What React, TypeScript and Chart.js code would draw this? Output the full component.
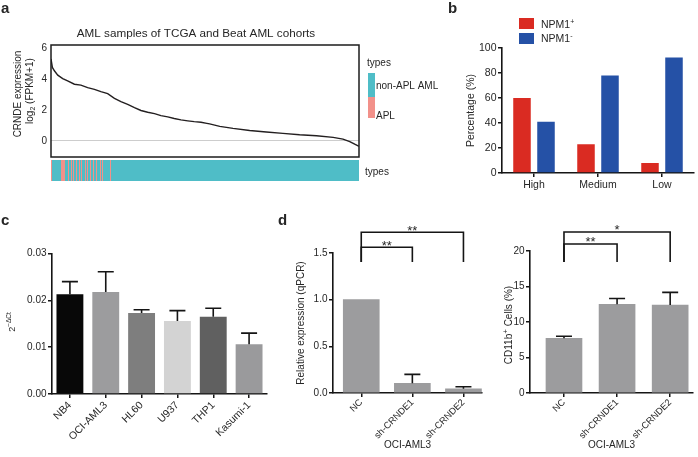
import React, { useEffect, useRef } from 'react';
import { Chart, registerables } from 'chart.js';
Chart.register(...registerables);

const PAGE_W = 698;
const PAGE_H = 457;
const FONT = '"Liberation Sans", Arial, Helvetica, sans-serif';
Chart.defaults.font.family = FONT;

// ---------- Panel a : CRNDE expression, ranked samples ----------
const sampleRankPct = [0, 0.45, 1.1, 2.2, 3.8, 5.4, 7.6, 9.7, 11.9, 14.1, 16.2, 18.4, 20.6, 22.7, 24.9, 27.1, 29.2, 31.4, 33.6, 35.7, 37.9, 40.0, 42.2, 44.4, 46.5, 48.7, 50.6, 51.5, 54.8, 59.1, 64.5, 69.9, 75.3, 80.7, 86.2, 91.6, 94.8, 97.0, 98.6, 99.7, 100];
const crndeExpr = [5.3, 4.75, 4.53, 4.25, 4.03, 3.88, 3.66, 3.6, 3.44, 3.33, 3.18, 3.05, 2.75, 2.53, 2.35, 2.14, 1.96, 1.85, 1.76, 1.63, 1.55, 1.44, 1.35, 1.29, 1.24, 1.2, 1.13, 1.09, 0.93, 0.8, 0.67, 0.57, 0.48, 0.39, 0.33, 0.22, 0.11, -0.05, -0.22, -0.33, -0.35];
const aYTicks = [0, 2, 4, 6];
const stripSampleCount = 308;
const aplSampleIdx = [0, 10, 11, 12, 13, 17, 20, 22, 25, 28, 30, 34, 36, 39, 42, 45, 49, 51, 59];
const typeNames = ['non-APL AML', 'APL'];
const typeColors = ['#4FBDC7', '#F2918A'];

// ---------- Panel b ----------
const npmGroups = ['High', 'Medium', 'Low'];
const npmPositive = [60, 23, 8];
const npmNegative = [41, 78, 92.5];
const bYTicks = [0, 20, 40, 60, 80, 100];
const npmColors = ['#DA2B22', '#2551A6'];

// ---------- Panel c ----------
const cellLines = ['NB4', 'OCI-AML3', 'HL60', 'U937', 'THP1', 'Kasumi-1'];
const cellExpr = [0.0213, 0.0218, 0.0173, 0.0156, 0.0165, 0.0106];
const cellSd = [0.0027, 0.0043, 0.0007, 0.0022, 0.0018, 0.0024];
const cellColors = ['#080808', '#9C9C9E', '#7E7E7E', '#D3D3D3', '#606060', '#9A9A9C'];
const cYTicks = [0, 0.01, 0.02, 0.03];

// ---------- Panel d ----------
const shConditions = ['NC', 'sh-CRNDE1', 'sh-CRNDE2'];
const relExpr = [1.0, 0.104, 0.046];
const relSd = [0, 0.096, 0.021];
const dLYTicks = [0, 0.5, 1.0, 1.5];
const cd11bPct = [7.7, 12.5, 12.4];
const cd11bSd = [0.3, 0.82, 1.77];
const dRYTicks = [0, 5, 10, 15, 20];
const relSig = [{ from: 0, to: 2, level: 1.722, label: '**' }, { from: 0, to: 1, level: 1.561, label: '**' }];
const relSigLeg = 1.404;
const cd11bSig = [{ from: 0, to: 2, level: 22.68, label: '*' }, { from: 0, to: 1, level: 20.99, label: '**' }];
const cd11bSigLeg = 18.45;

const AX = '#151515';
const TXT = '#262626';

type Seg = { t: string; size: number; rise?: number; bold?: boolean };
function rich(ctx: CanvasRenderingContext2D, segs: Seg[], x: number, y: number, align: 'left' | 'center' | 'right' = 'left', rot = 0, color = TXT) {
  ctx.save();
  ctx.translate(x, y);
  if (rot) ctx.rotate(rot);
  ctx.fillStyle = color;
  ctx.textBaseline = 'alphabetic';
  ctx.textAlign = 'left';
  const widths = segs.map((s) => {
    ctx.font = `${s.bold ? 'bold ' : ''}${s.size}px ${FONT}`;
    return ctx.measureText(s.t).width;
  });
  const total = widths.reduce((a, b) => a + b, 0);
  let cx = align === 'left' ? 0 : align === 'center' ? -total / 2 : -total;
  const base = segs[0].size * 0.35;
  segs.forEach((s, i) => {
    ctx.font = `${s.bold ? 'bold ' : ''}${s.size}px ${FONT}`;
    ctx.fillText(s.t, cx, base - (s.rise || 0));
    cx += widths[i];
  });
  ctx.restore();
}
const txt = (ctx: CanvasRenderingContext2D, t: string, x: number, y: number, size: number, align: 'left' | 'center' | 'right' = 'left', rot = 0, bold = false) =>
  rich(ctx, [{ t, size, bold }], x, y, align, rot);

const yFit = (w: number) => (s: any) => { s.width = w; s.paddingTop = 0; s.paddingBottom = 0; };
const xFit = (h: number) => (s: any) => { s.height = h; s.paddingLeft = 0; s.paddingRight = 0; };
const pad = (l: number, t: number, r: number, b: number, yW: number, xH: number) => ({ left: l - yW, top: t, right: PAGE_W - r, bottom: PAGE_H - b - xH });

const base = (padding: any) => ({
  animation: false as const,
  responsive: false,
  devicePixelRatio: 1,
  events: [] as any[],
  layout: { padding },
  plugins: { legend: { display: false }, tooltip: { enabled: false }, title: { display: false } },
});

function yAxis(o: { min: number; max: number; w: number; ticks: number[]; fmt: (v: number) => string; size?: number; title?: string }) {
  return {
    min: o.min,
    max: o.max,
    afterFit: yFit(o.w),
    afterBuildTicks: (s: any) => { s.ticks = o.ticks.map((v) => ({ value: v })); },
    ticks: { padding: 1.5, color: TXT, font: { size: o.size ?? 10 }, callback: (v: any) => o.fmt(Number(v)) },
    grid: { drawOnChartArea: false, drawTicks: true, tickLength: 4, color: AX, lineWidth: 1.5 },
    border: { display: true, color: AX, width: 1.6 },
    title: o.title ? { display: true, text: o.title, padding: 0, color: TXT, font: { size: o.size ?? 10 } } : { display: false },
  };
}

function errorBars(sd: number[], cap: number) {
  return {
    id: 'errbars',
    afterDatasetsDraw(chart: any) {
      const meta = chart.getDatasetMeta(0);
      const ys = chart.scales.y;
      const ctx = chart.ctx as CanvasRenderingContext2D;
      const vals = chart.data.datasets[0].data;
      ctx.save();
      ctx.strokeStyle = AX;
      ctx.lineWidth = 1.6;
      meta.data.forEach((el: any, i: number) => {
        const e = sd[i];
        if (!e) return;
        const v = typeof vals[i] === 'number' ? vals[i] : vals[i].y;
        const yTop = ys.getPixelForValue(v + e);
        ctx.beginPath();
        ctx.moveTo(el.x, el.y);
        ctx.lineTo(el.x, yTop);
        ctx.moveTo(el.x - cap / 2, yTop);
        ctx.lineTo(el.x + cap / 2, yTop);
        ctx.stroke();
      });
      ctx.restore();
    },
  };
}

function sigBrackets(sig: { from: number; to: number; level: number; label: string }[], leg: number) {
  return {
    id: 'sig',
    afterDraw(chart: any) {
      const xs = chart.scales.x;
      const ys = chart.scales.y;
      const ctx = chart.ctx as CanvasRenderingContext2D;
      const yLeg = ys.getPixelForValue(leg);
      ctx.save();
      ctx.strokeStyle = AX;
      ctx.lineWidth = 1.6;
      sig.forEach((s) => {
        const x1 = xs.getPixelForValue(s.from);
        const x2 = xs.getPixelForValue(s.to);
        const y = ys.getPixelForValue(s.level);
        ctx.beginPath();
        ctx.moveTo(x1, yLeg);
        ctx.lineTo(x1, y);
        ctx.lineTo(x2, y);
        ctx.lineTo(x2, yLeg);
        ctx.stroke();
        ctx.font = `13px ${FONT}`;
        ctx.fillStyle = TXT;
        ctx.textAlign = 'center';
        ctx.textBaseline = 'alphabetic';
        ctx.fillText(s.label, (x1 + x2) / 2, y + 2.5);
      });
      ctx.restore();
    },
  };
}

function makeConfigs(): any[] {
  // a: line
  const aPad = pad(51, 45, 359, 157, 30, 0);
  const aLine = {
    type: 'line',
    data: {
      datasets: [{ data: sampleRankPct.map((x, i) => ({ x, y: crndeExpr[i] })), borderColor: '#231F20', borderWidth: 1.4, pointRadius: 0, tension: 0 }],
    },
    options: {
      ...base(aPad),
      scales: {
        x: { type: 'linear', min: 0, max: 100, display: false },
        y: {
          min: -1.05,
          max: 6.2,
          afterFit: yFit(30),
          afterBuildTicks: (s: any) => { s.ticks = aYTicks.map((v) => ({ value: v })); },
          ticks: { padding: 4, color: TXT, font: { size: 10 } },
          grid: { drawTicks: false, color: (c: any) => (c.tick && c.tick.value === 0 ? '#cdcdcd' : 'rgba(0,0,0,0)'), lineWidth: 1 },
          border: { display: false },
        },
      },
    },
    plugins: [
      {
        id: 'aDecor',
        afterDraw(chart: any) {
          const ctx = chart.ctx as CanvasRenderingContext2D;
          const a = chart.chartArea;
          ctx.save();
          ctx.strokeStyle = '#1c1c1c';
          ctx.lineWidth = 1.5;
          ctx.strokeRect(a.left, a.top, a.right - a.left, a.bottom - a.top);
          ctx.restore();
          txt(ctx, 'AML samples of TCGA and Beat AML cohorts', 196, 33, 11.7, 'center');
          txt(ctx, 'CRNDE expression', 17.5, 94, 10, 'center', -Math.PI / 2);
          rich(ctx, [{ t: 'log', size: 10 }, { t: '2', size: 7, rise: -2.5 }, { t: ' (FPKM+1)', size: 10 }], 29, 91, 'center', -Math.PI / 2);
          // legend
          txt(ctx, 'types', 367, 62, 10);
          ctx.fillStyle = typeColors[0];
          ctx.fillRect(368, 73, 7, 24);
          ctx.fillStyle = typeColors[1];
          ctx.fillRect(368, 97, 7, 21);
          txt(ctx, typeNames[0], 376, 85, 10);
          txt(ctx, typeNames[1], 376, 115, 10);
          txt(ctx, 'types', 365, 171, 10);
          // panel letters
          txt(ctx, 'a', 1, 8, 15, 'left', 0, true);
          txt(ctx, 'b', 448, 8, 15, 'left', 0, true);
          txt(ctx, 'c', 1, 220, 15, 'left', 0, true);
          txt(ctx, 'd', 278, 220, 15, 'left', 0, true);
        },
      },
    ],
  };

  // a: type strip
  const stripTypes = Array.from({ length: stripSampleCount }, (_, i) => (aplSampleIdx.includes(i) ? 1 : 0));
  const aStrip = {
    type: 'bar',
    data: {
      labels: stripTypes.map((_, i) => String(i)),
      datasets: [{ data: stripTypes.map(() => 1), backgroundColor: stripTypes.map((t) => typeColors[t]), barPercentage: 1, categoryPercentage: 1, inflateAmount: 0, borderWidth: 0 }],
    },
    options: {
      ...base(pad(51, 160, 359, 181, 0, 0)),
      scales: { x: { display: false }, y: { display: false, min: 0, max: 1 } },
    },
  };

  // b
  const bYW = 37.3, bXH = 20;
  const bChart = {
    type: 'bar',
    data: {
      labels: npmGroups,
      datasets: [
        { label: 'NPM1+', data: npmPositive, backgroundColor: npmColors[0], categoryPercentage: 0.75, barPercentage: 0.73 },
        { label: 'NPM1-', data: npmNegative, backgroundColor: npmColors[1], categoryPercentage: 0.75, barPercentage: 0.73 },
      ],
    },
    options: {
      ...base(pad(502, 48, 694, 173, bYW, bXH)),
      scales: {
        x: {
          afterFit: xFit(bXH),
          ticks: { padding: 2, color: TXT, font: { size: 10.5 }, maxRotation: 0, autoSkip: false },
          grid: { offset: false, drawOnChartArea: false, drawTicks: true, tickLength: 4, color: AX, lineWidth: 1.5 },
          border: { display: true, color: AX, width: 1.6 },
        },
        y: yAxis({ min: 0, max: 100, w: bYW, ticks: bYTicks, fmt: (v) => String(v), size: 10.5, title: 'Percentage (%)' }),
      },
    },
    plugins: [
      {
        id: 'bLegend',
        afterDraw(chart: any) {
          const ctx = chart.ctx as CanvasRenderingContext2D;
          ctx.fillStyle = npmColors[0];
          ctx.fillRect(519, 18, 15, 11);
          ctx.fillStyle = npmColors[1];
          ctx.fillRect(519, 33, 15, 11);
          rich(ctx, [{ t: 'NPM1', size: 10.5 }, { t: '+', size: 7, rise: 4 }], 541, 24, 'left');
          rich(ctx, [{ t: 'NPM1', size: 10.5 }, { t: '-', size: 7, rise: 4 }], 541, 38.5, 'left');
        },
      },
    ],
  };

  // c
  const cYW = 40, cXH = 50;
  const cChart = {
    type: 'bar',
    data: {
      labels: cellLines,
      datasets: [{ data: cellExpr, backgroundColor: cellColors, categoryPercentage: 1, barPercentage: 0.75 }],
    },
    options: {
      ...base(pad(52, 253.5, 267, 394, cYW, cXH)),
      scales: {
        x: {
          afterFit: xFit(cXH),
          ticks: { padding: 1, color: TXT, font: { size: 10.5 }, minRotation: 45, maxRotation: 45, autoSkip: false },
          grid: { offset: false, drawOnChartArea: false, drawTicks: true, tickLength: 4, color: AX, lineWidth: 1.5 },
          border: { display: true, color: AX, width: 1.6 },
        },
        y: yAxis({ min: 0, max: 0.03, w: cYW, ticks: cYTicks, fmt: (v) => v.toFixed(2) }),
      },
    },
    plugins: [
      errorBars(cellSd, 16),
      {
        id: 'cTitle',
        afterDraw(chart: any) {
          rich(chart.ctx, [{ t: '2', size: 9 }, { t: '−ΔCt', size: 6.5, rise: 4 }], 12, 322, 'center', -Math.PI / 2);
        },
      },
    ],
  };

  // d left
  const dLYW = 38, dXH = 58;
  const linX = (min: number, max: number) => ({
    type: 'linear',
    min,
    max,
    offset: false,
    afterFit: xFit(dXH),
    afterBuildTicks: (s: any) => { s.ticks = shConditions.map((_, i) => ({ value: i })); },
    ticks: { padding: 0, color: TXT, font: { size: 9.3 }, minRotation: 45, maxRotation: 45, autoSkip: false, callback: (v: any) => shConditions[Math.round(Number(v))] },
    grid: { offset: false, drawOnChartArea: false, drawTicks: true, tickLength: 4, color: AX, lineWidth: 1.5 },
    border: { display: true, color: AX, width: 1.6 },
    title: { display: true, text: 'OCI-AML3', padding: 0, color: TXT, font: { size: 10 } },
  });
  const dLChart = {
    type: 'bar',
    data: {
      datasets: [{ data: shConditions.map((_, i) => ({ x: i, y: relExpr[i] })), backgroundColor: '#9C9C9E', barThickness: 36 }],
    },
    options: {
      ...base(pad(333, 253, 482, 393, dLYW, dXH)),
      scales: {
        x: linX(-0.553, 2.363),
        y: yAxis({ min: 0, max: 1.5, w: dLYW, ticks: dLYTicks, fmt: (v) => v.toFixed(1), title: 'Relative expression (qPCR)' }),
      },
    },
    plugins: [errorBars(relSd, 16), sigBrackets(relSig, relSigLeg)],
  };

  // d right
  const dRYW = 28;
  const dRChart = {
    type: 'bar',
    data: {
      datasets: [{ data: shConditions.map((_, i) => ({ x: i, y: cd11bPct[i] })), backgroundColor: '#9C9C9E', barThickness: 36 }],
    },
    options: {
      ...base(pad(530, 251, 693, 393, dRYW, dXH)),
      scales: {
        x: linX(-0.64, 2.43),
        y: yAxis({ min: 0, max: 20, w: dRYW, ticks: dRYTicks, fmt: (v) => String(v) }),
      },
    },
    plugins: [
      errorBars(cd11bSd, 16),
      sigBrackets(cd11bSig, cd11bSigLeg),
      {
        id: 'dRTitle',
        afterDraw(chart: any) {
          rich(chart.ctx, [{ t: 'CD11b', size: 10 }, { t: '+', size: 8, rise: 4 }, { t: ' Cells (%)', size: 10 }], 508, 325, 'center', -Math.PI / 2);
        },
      },
    ],
  };

  return [aLine, aStrip, bChart, cChart, dLChart, dRChart];
}

export default function App() {
  const canvases = useRef<(HTMLCanvasElement | null)[]>([]);
  useEffect(() => {
    const cfgs = makeConfigs();
    const charts = cfgs.map((cfg, i) => new Chart(canvases.current[i] as HTMLCanvasElement, cfg));
    return () => charts.forEach((c) => c.destroy());
  }, []);
  return (
    <div style={{ position: 'fixed', left: 0, top: 0, width: PAGE_W, height: PAGE_H, background: '#fff', overflow: 'hidden' }}>
      {[0, 1, 2, 3, 4, 5].map((i) => (
        <canvas
          key={i}
          ref={(el) => { canvases.current[i] = el; }}
          width={PAGE_W}
          height={PAGE_H}
          style={{ position: 'absolute', left: 0, top: 0, width: PAGE_W, height: PAGE_H }}
        />
      ))}
    </div>
  );
}
